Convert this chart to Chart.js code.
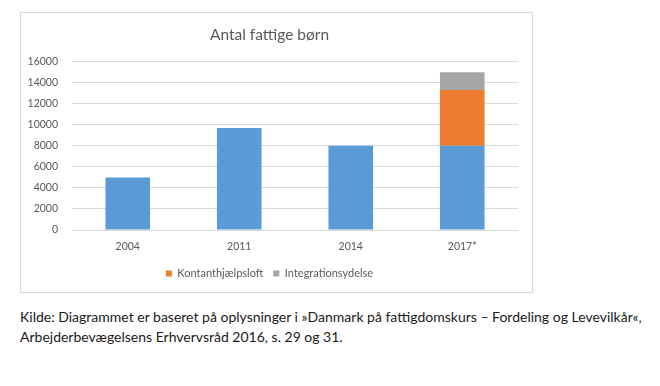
<!DOCTYPE html>
<html>
<head>
<meta charset="utf-8">
<script src="https://cdn.jsdelivr.net/npm/chart.js@4.4.0/dist/chart.umd.min.js"></script>
<style>
  html, body { margin: 0; padding: 0; background: #ffffff; }
  body { width: 660px; height: 386px; position: relative; overflow: hidden; }
  #box { position: absolute; left: 20px; top: 12px; width: 513px; height: 281px; box-sizing: border-box; border: 1px solid #d9d9d9; }
  #wrap { position: absolute; left: 0; top: 0; width: 511px; height: 279px; }
  #caption { position: absolute; left: 20px; top: 307px; font-family: Lato, sans-serif; font-size: 14px; line-height: 20px; color: #1a1a1a; white-space: nowrap; }
</style>
</head>
<body>
<div id="box"><div id="wrap"><canvas id="c" width="511" height="279"></canvas></div></div>
<div id="caption">Kilde: Diagrammet er baseret på oplysninger i »Danmark på fattigdomskurs – Fordeling og Levevilkår«,<br>Arbejderbevægelsens Erhvervsråd 2016, s. 29 og 31.</div>
<script>
const categories = ['2004', '2011', '2014', '2017*'];
const fattigeBoern = [5000, 9700, 8000, 8000];
const kontanthjaelpsloft = [null, null, null, 5300];
const integrationsydelse = [null, null, null, 1700];
const yTicks = [0, 2000, 4000, 6000, 8000, 10000, 12000, 14000, 16000];

const textColor = '#595959';
const gridColor = '#d9d9d9';

new Chart(document.getElementById('c'), {
  type: 'bar',
  data: {
    labels: categories,
    datasets: [
      { label: 'Fattige børn', data: fattigeBoern, backgroundColor: '#5b9bd5', stack: 's' },
      { label: 'Kontanthjælpsloft', data: kontanthjaelpsloft, backgroundColor: '#ed7d31', stack: 's' },
      { label: 'Integrationsydelse', data: integrationsydelse, backgroundColor: '#a5a5a5', stack: 's' }
    ]
  },
  options: {
    responsive: false,
    animation: false,
    devicePixelRatio: 1,
    categoryPercentage: 1,
    barPercentage: 0.4,
    layout: { padding: { left: 0, right: 14, top: 0, bottom: 3 } },
    plugins: {
      tooltip: { enabled: false },
      title: {
        display: true,
        text: 'Antal fattige børn',
        color: textColor,
        font: { family: 'Lato', size: 15.5, weight: 'normal' },
        padding: { top: 13, bottom: 17 }
      },
      legend: {
        position: 'bottom',
        labels: {
          color: textColor,
          font: { family: 'Lato', size: 11 },
          boxWidth: 6,
          boxHeight: 6,
          padding: 10,
          filter: (item) => item.datasetIndex !== 0
        }
      }
    },
    scales: {
      x: {
        stacked: true,
        grid: { display: false, drawTicks: false },
        border: { display: false },
        ticks: { color: textColor, font: { family: 'Lato', size: 10.5 }, padding: 10 },
        afterFit: (s) => { s.height = 28; }
      },
      y: {
        stacked: true,
        min: 0,
        max: 16000,
        afterBuildTicks: (s) => { s.ticks = yTicks.map(v => ({ value: v })); },
        grid: { color: gridColor, drawTicks: false },
        border: { display: false },
        ticks: { color: textColor, font: { family: 'Lato', size: 10.5 }, padding: 14, callback: (v) => String(v) },
        afterFit: (s) => { s.width = 51; }
      }
    }
  }
});
</script>
</body>
</html>
